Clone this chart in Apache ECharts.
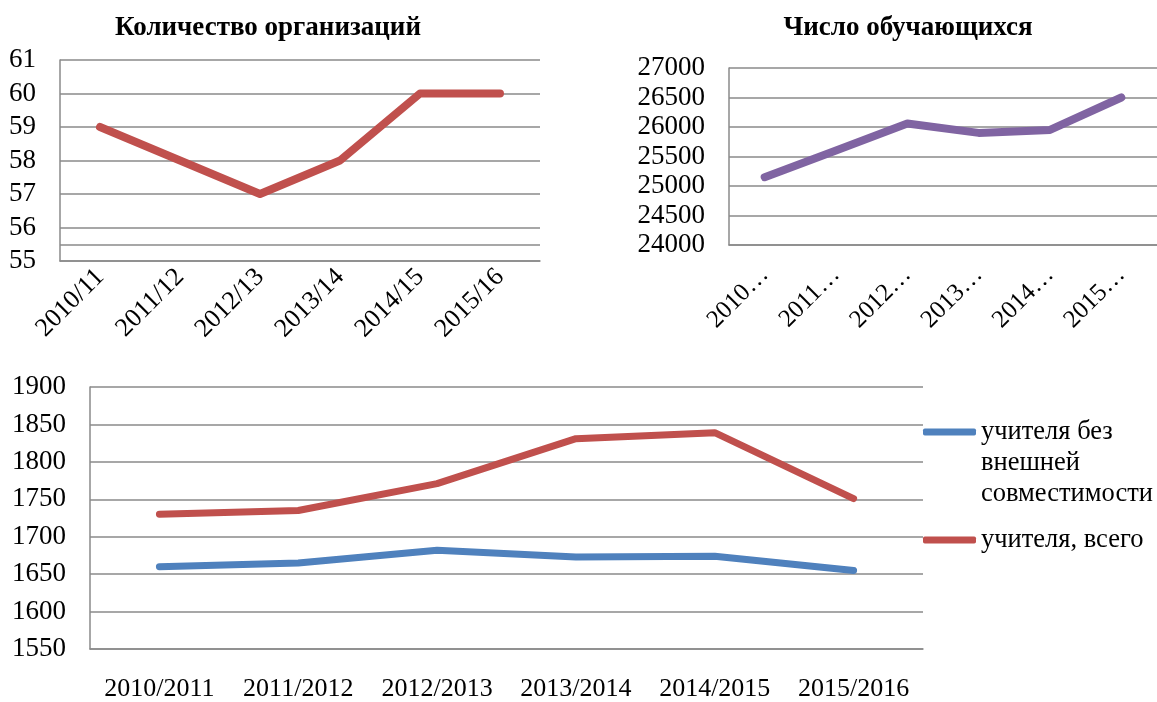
<!DOCTYPE html>
<html>
<head>
<meta charset="utf-8">
<script src="https://cdn.jsdelivr.net/npm/echarts@6/dist/echarts.min.js"></script>
<style>
  html, body { margin: 0; padding: 0; background: #fff; }
  #chart { width: 1157px; height: 702px; }
</style>
</head>
<body>
<div id="chart"></div>
<script>
// Организации по учебным годам
const orgYears = ['2010/11', '2011/12', '2012/13', '2013/14', '2014/15', '2015/16'];
const orgCount = [59, 58, 57, 58, 60, 60];
const orgExtraLine = [55.5];

// Контингент обучающихся
const studentYears = ['2010/11', '2011/12', '2012/13', '2013/14', '2014/15', '2015/16'];
const studentCount = [25150, 25600, 26060, 25900, 25950, 26500];

// Педагогические кадры
const teacherYears = ['2010/2011', '2011/2012', '2012/2013', '2013/2014', '2014/2015', '2015/2016'];
const teachersNoExternal = [1660, 1665, 1682, 1673, 1674, 1655];
const teachersTotal = [1730, 1735, 1771, 1831, 1839, 1751];

const seriesNames = ['учителя без внешней совместимости', 'учителя, всего'];
const legendText = {
  'учителя без внешней совместимости': '\n\nучителя без\nвнешней\nсовместимости',
  'учителя, всего': 'учителя, всего'
};

const FONT = "'Liberation Serif', 'Times New Roman', serif";
const GRID_COLOR = '#8a8a8a';
const RED = '#C0504D', BLUE = '#4F81BD', PURPLE = '#8064A2';

function valueAxis(gridIndex, min, max, interval) {
  return {
    type: 'value', gridIndex, min, max, interval,
    axisLine: { show: true, lineStyle: { color: GRID_COLOR, width: 1.5 } },
    axisTick: { show: false },
    splitLine: { lineStyle: { color: GRID_COLOR, width: 1.5 } },
    axisLabel: { color: '#000', fontFamily: FONT, fontSize: 27, margin: 24, formatter: v => String(v) }
  };
}

function categoryAxis(gridIndex, data, label) {
  return {
    type: 'category', gridIndex, data, boundaryGap: true,
    axisLine: { show: true, lineStyle: { color: GRID_COLOR, width: 1.5 } },
    axisTick: { show: false },
    axisLabel: Object.assign({ color: '#000', fontFamily: FONT, fontSize: 26, interval: 0 }, label)
  };
}

function line(name, xi, data, color, width) {
  return {
    name, type: 'line', xAxisIndex: xi, yAxisIndex: xi, data,
    showSymbol: false, symbol: 'none', animation: false,
    lineStyle: { color, width, cap: 'round', join: 'round' },
    itemStyle: { color }
  };
}

const chart = echarts.init(document.getElementById('chart'));
const orgSeries = line('Количество организаций', 0, orgCount, RED, 8);
orgSeries.markLine = {
  silent: true, symbol: 'none', animation: false,
  label: { show: false },
  lineStyle: { color: GRID_COLOR, width: 1.5, type: 'solid' },
  data: orgExtraLine.map(v => ({ yAxis: v }))
};

chart.setOption({
  animation: false,
  backgroundColor: '#fff',
  title: [
    { text: 'Количество организаций', left: 263, top: 10, textAlign: 'center',
      textStyle: { fontFamily: FONT, fontWeight: 'bold', fontSize: 27, color: '#000' } },
    { text: 'Число обучающихся', left: 903, top: 10, textAlign: 'center',
      textStyle: { fontFamily: FONT, fontWeight: 'bold', fontSize: 27, color: '#000' } }
  ],
  grid: [
    { left: 60, top: 60, width: 480, height: 201 },
    { left: 729, top: 68, width: 438, height: 177 },
    { left: 90, top: 387, width: 833, height: 264 }
  ],
  xAxis: [
    categoryAxis(0, orgYears, { rotate: 45, margin: 12, fontSize: 26 }),
    categoryAxis(1, studentYears, { rotate: 45, margin: 26, fontSize: 25, width: 78, overflow: 'truncate', ellipsis: '…' }),
    categoryAxis(2, teacherYears, { margin: 27 })
  ],
  yAxis: [
    valueAxis(0, 55, 61, 1),
    valueAxis(1, 24000, 27000, 500),
    valueAxis(2, 1550, 1900, 50)
  ],
  legend: {
    orient: 'vertical', left: 923, top: 354.5, padding: 0,
    itemWidth: 53, itemHeight: 7, itemGap: 15, icon: 'roundRect',
    data: seriesNames,
    formatter: name => legendText[name],
    textStyle: { fontFamily: FONT, fontSize: 26.5, lineHeight: 31, color: '#000' }
  },
  series: [
    orgSeries,
    line('Число обучающихся', 1, studentCount, PURPLE, 8),
    line(seriesNames[0], 2, teachersNoExternal, BLUE, 7),
    line(seriesNames[1], 2, teachersTotal, RED, 7)
  ]
});
</script>
</body>
</html>
